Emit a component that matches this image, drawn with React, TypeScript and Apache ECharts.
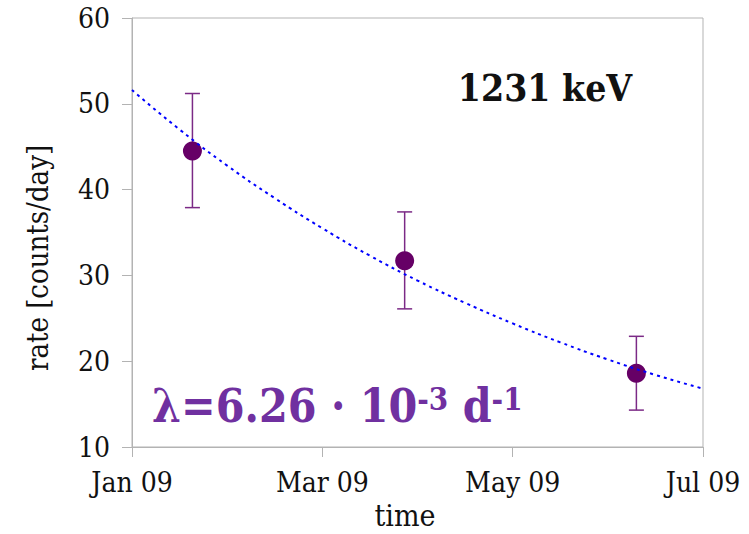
import React, { useEffect, useRef } from "react";
import * as echarts from "echarts";

// x values are in months since 1 Jan 2009
const tickLabels = ["Jan 09", "Mar 09", "May 09", "Jul 09"];
const pointMonths = [0.635, 2.865, 5.3];
const pointRates = [44.5, 31.7, 18.6];
const errLow = [37.9, 26.1, 14.3];
const errHigh = [51.2, 37.4, 22.9];
const fitMonths = [0, 0.5, 1, 1.5, 2, 2.5, 3, 3.5, 4, 4.5, 5, 5.5, 6];
const fitRates = [51.6, 47.0, 42.8, 39.0, 35.5, 32.3, 29.4, 26.8, 24.4, 22.2, 20.2, 18.4, 16.8];

const FONT = "'DejaVu Serif Condensed', 'DejaVu Serif', serif";

export default function App() {
  const ref = useRef<HTMLDivElement>(null);
  useEffect(() => {
    if (!ref.current) return;
    const chart = echarts.init(ref.current, null, { renderer: "svg" });
    const gray = "#b3b3b3";
    chart.setOption({
      animation: false,
      backgroundColor: "#ffffff",
      grid: {
        left: 132,
        right: 46,
        top: 18,
        bottom: 87,
        show: true,
        borderColor: gray,
        borderWidth: 1,
      },
      xAxis: {
        type: "value",
        min: 0,
        max: 6,
        interval: 2,
        axisLine: { lineStyle: { color: gray } },
        axisTick: { show: true, length: 10, lineStyle: { color: gray } },
        splitLine: { show: false },
        axisLabel: {
          color: "#111",
          fontFamily: FONT,
          fontSize: 28,
          margin: 21,
          formatter: (v: number) => tickLabels[Math.round(v / 2)] ?? "",
        },
      },
      yAxis: {
        type: "value",
        min: 10,
        max: 60,
        interval: 10,
        axisLine: { show: true, lineStyle: { color: gray } },
        axisTick: { show: true, length: 10, lineStyle: { color: gray } },
        splitLine: { show: false },
        axisLabel: {
          color: "#111",
          fontFamily: FONT,
          fontSize: 28,
          margin: 22,
        },
      },
      graphic: [
        {
          type: "text",
          x: 405,
          y: 515,
          style: {
            text: "time",
            fontFamily: FONT,
            fontSize: 30,
            fill: "#111",
            align: "center",
            verticalAlign: "middle",
          },
        },
        {
          type: "text",
          x: 38,
          y: 258,
          rotation: Math.PI / 2,
          style: {
            text: "rate [counts/day]",
            fontFamily: FONT,
            fontSize: 29,
            fill: "#111",
            align: "center",
            verticalAlign: "middle",
          },
        },
        {
          type: "text",
          x: 545,
          y: 88,
          style: {
            text: "1231 keV",
            fontFamily: FONT,
            fontSize: 37,
            fontWeight: "bold",
            fill: "#111",
            align: "center",
            verticalAlign: "middle",
          },
        },
        {
          type: "text",
          x: 152,
          y: 406,
          style: {
            text: "{a|λ=6.26 · 10}{s|-3}{a| d}{s|-1}",
            fill: "#7030a0",
            verticalAlign: "middle",
            rich: {
              a: {
                fontFamily: FONT,
                fontSize: 46,
                fontWeight: "bold",
                fill: "#7030a0",
                verticalAlign: "bottom",
              },
              s: {
                fontFamily: FONT,
                fontSize: 31,
                fontWeight: "bold",
                fill: "#7030a0",
                verticalAlign: "top",
              },
            },
          },
        },
      ],
      series: [
        {
          type: "custom",
          z: 2,
          data: pointMonths.map((m, i) => [m, errLow[i], errHigh[i]]),
          renderItem: (params: any, api: any) => {
            const lo = api.coord([api.value(0), api.value(1)]);
            const hi = api.coord([api.value(0), api.value(2)]);
            const hw = 7.5;
            const style = { stroke: "#7b2a86", lineWidth: 1.5 };
            return {
              type: "group",
              children: [
                { type: "line", shape: { x1: lo[0], y1: lo[1], x2: hi[0], y2: hi[1] }, style },
                { type: "line", shape: { x1: lo[0] - hw, y1: lo[1], x2: lo[0] + hw, y2: lo[1] }, style },
                { type: "line", shape: { x1: hi[0] - hw, y1: hi[1], x2: hi[0] + hw, y2: hi[1] }, style },
              ],
            };
          },
        },
        {
          type: "scatter",
          z: 3,
          symbolSize: 19,
          itemStyle: { color: "#660066", opacity: 1 },
          data: pointMonths.map((m, i) => [m, pointRates[i]]),
        },
        {
          type: "line",
          z: 4,
          showSymbol: false,
          smooth: true,
          lineStyle: { color: "#0000ff", width: 2, type: [3, 4] },
          data: fitMonths.map((m, i) => [m, fitRates[i]]),
        },
      ],
    });
    return () => chart.dispose();
  }, []);
  return (
    <div
      ref={ref}
      style={{ position: "fixed", left: 0, top: 0, width: 749, height: 534 }}
    />
  );
}
